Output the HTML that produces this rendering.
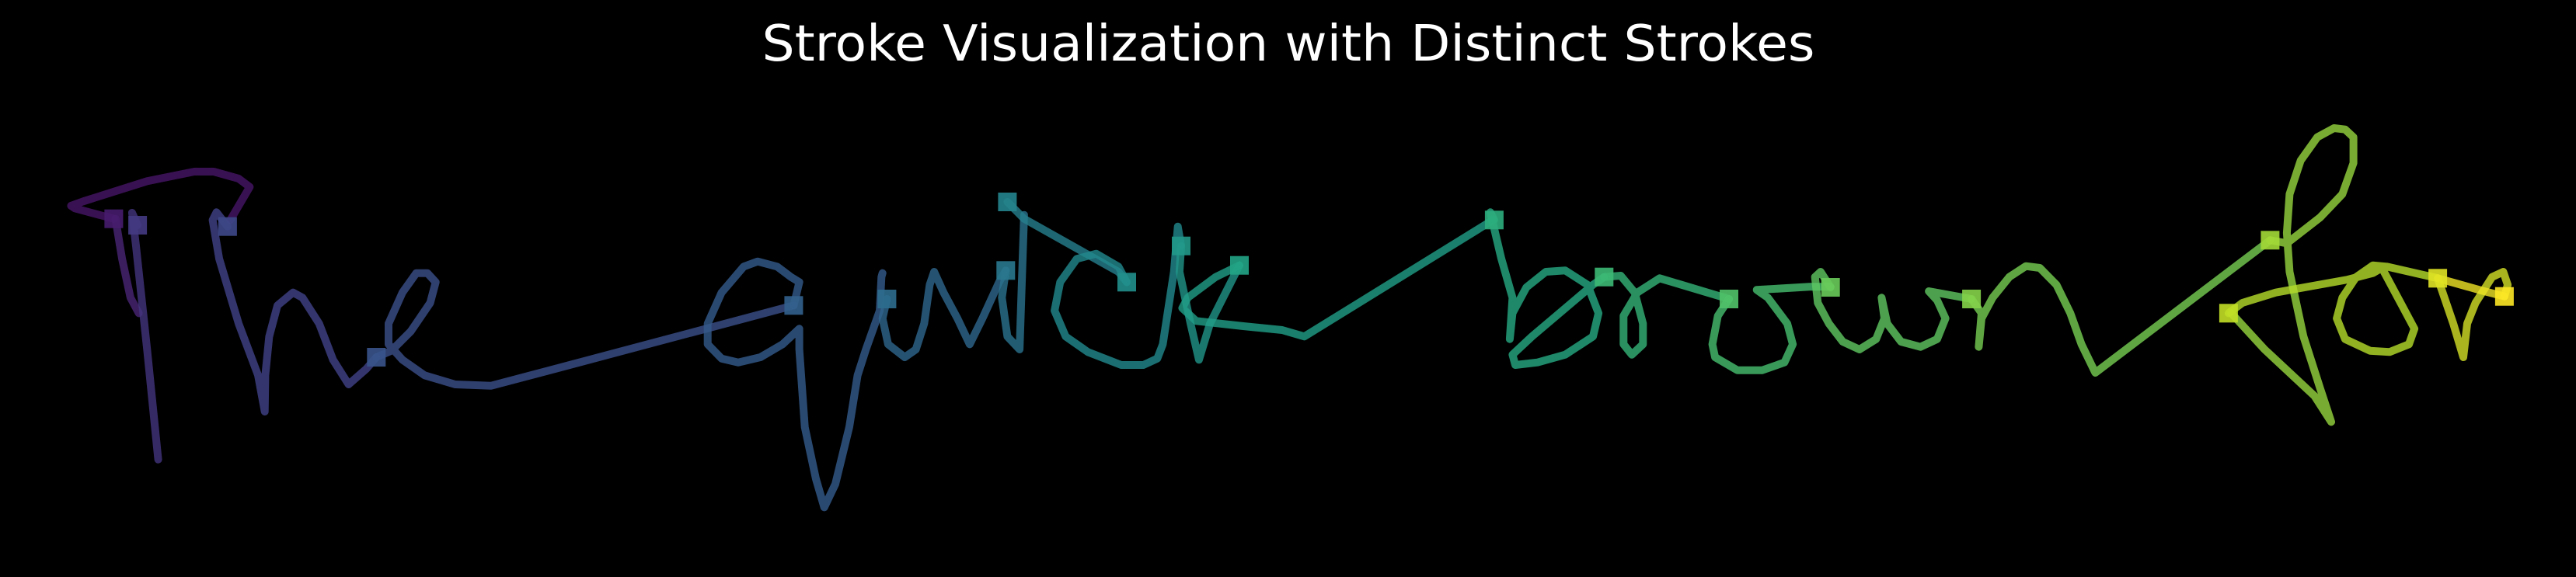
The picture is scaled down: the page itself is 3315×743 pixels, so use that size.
<!DOCTYPE html>
<html><head><meta charset="utf-8"><style>
html,body{margin:0;padding:0;background:#000;}
svg{display:block;}
</style></head><body>
<svg id="chart" width="3315" height="743" viewBox="0 0 3315 743" xmlns="http://www.w3.org/2000/svg">
<rect x="0" y="0" width="3315" height="743" fill="#000"/>
<text x="1658" y="78" text-anchor="middle" font-family="DejaVu Sans, Liberation Sans, sans-serif" font-size="64" fill="#fff" textLength="1355" lengthAdjust="spacingAndGlyphs">Stroke Visualization with Distinct Strokes</text>
<g id="strokes"></g>
<g id="markers"></g>
</svg>
<script>
// Pen-unit stroke data (x in pen units, y in pen units)
const stroke1 = [[205,395],[135,355],[128,345],[150,328],[265,250],[350,213],[385,213],[430,240],[450,272],[415,400]];
const stroke2 = [[248,420],[238,372],[245,500],[265,900],[285,1325]];
const stroke2b = [[208,395],[220,550],[235,700],[250,760]];
const stroke3 = [[410,425],[390,370],[383,400],[395,550],[430,800],[465,1000],[477,1140],[478,1000],[485,850],[500,730],[528,680],[545,700],[575,800],[600,940],[628,1035],[660,975],[678,930]];
const stroke4 = [[678,930],[705,905],[740,830],[775,720],[785,640],[770,605],[750,605],[725,680],[700,800],[700,880],[725,940],[765,1000],[820,1035],[885,1040],[1000,975],[1430,730]];
const stroke5 = [[1430,730],[1440,640],[1425,620],[1400,580],[1365,560],[1340,580],[1300,680],[1275,800],[1275,880],[1300,935],[1330,950],[1370,930],[1410,880],[1440,820],[1440,900],[1450,1200],[1470,1400],[1485,1510],[1505,1420],[1530,1200],[1545,1000],[1560,900],[1585,750],[1588,620],[1590,605]];
const stroke6 = [[1598,705],[1590,780],[1600,880],[1630,930],[1650,900],[1665,800],[1675,650],[1683,600],[1700,680],[1725,780],[1747,880],[1770,780],[1800,640],[1812,595]];
const stroke7 = [[1812,595],[1805,700],[1815,850],[1837,900],[1840,700],[1845,380]];
const stroke8 = [[1815,330],[1845,395],[2015,600],[2030,640]];
const stroke9 = [[2030,640],[2015,580],[1975,530],[1940,550],[1910,640],[1900,750],[1920,850],[1960,910],[2020,960],[2060,960],[2085,935],[2095,880],[2115,600],[2122,425],[2128,500]];
const stroke10 = [[2128,500],[2125,600],[2145,800],[2160,940],[2180,800],[2233,575]];
const stroke11 = [[2233,575],[2190,620],[2140,700],[2130,740],[2155,790],[2240,810],[2310,825],[2350,850],[2690,400]];
const stroke12 = [[2692,400],[2685,370],[2705,550],[2725,700],[2720,860],[2725,760],[2750,660],[2785,600],[2820,595],[2860,650],[2880,760],[2870,850],[2820,920],[2770,950],[2730,960],[2725,920],[2760,850],[2870,650],[2890,620]];
const stroke13 = [[2890,620],[2920,615],[2945,680],[2960,800],[2960,880],[2940,920],[2925,880],[2925,770],[2950,680],[2990,625],[3115,705]];
const stroke14 = [[3115,705],[3095,770],[3085,880],[3090,930],[3130,980],[3175,980],[3215,950],[3230,880],[3220,800],[3185,700],[3165,670],[3260,658],[3298,658]];
const stroke15 = [[3298,660],[3280,600],[3270,620],[3275,720],[3295,800],[3320,870],[3350,900],[3380,860],[3395,780],[3390,700],[3400,800],[3425,870],[3460,890],[3490,860],[3505,780],[3490,710],[3475,675],[3552,705]];
const stroke16 = [[3552,705],[3570,760],[3565,890],[3570,780],[3590,700],[3620,620],[3650,578],[3675,585],[3705,650],[3730,760],[3750,880],[3775,990],[4090,478]];
const stroke17 = [[4090,478],[4120,490],[4180,390],[4220,300],[4240,180],[4240,80],[4225,50],[4205,45],[4175,80],[4145,170],[4125,300],[4120,450],[4125,600],[4150,850],[4180,1050],[4200,1180],[4170,1080],[4080,900],[4020,760]];
const stroke18 = [[4015,760],[4040,720],[4100,680],[4230,630],[4275,605],[4295,580],[4295,600],[4330,740],[4350,820],[4340,880],[4305,910],[4270,905],[4225,860],[4210,780],[4220,700],[4245,620],[4275,575],[4300,580],[4392,625]];
const stroke19 = [[4392,625],[4420,800],[4438,930],[4445,800],[4460,720],[4490,620],[4510,600],[4518,650],[4512,695]];
const stroke20 = [[4512,695],[4470,672],[4392,625]];
const strokes = [stroke1,stroke2b,stroke2,stroke3,stroke4,stroke5,stroke6,stroke7,stroke8,stroke9,stroke10,stroke11,stroke12,stroke13,stroke14,stroke15,stroke16,stroke17,stroke18,stroke19,stroke20];
const markerFlags = [1,0,1,1,1,1,1,1,1,1,1,1,1,1,1,1,1,1,1,1,1];

// axis functions: pen units -> pixels
function xScale(v){ return v/1.4; }
function yScale(v){ return 150 + v/3; }

const VIR = [[68,1,84],[72,35,116],[64,67,135],[52,94,141],[41,120,142],[32,144,140],[34,167,132],[68,190,112],[121,209,81],[189,222,38],[253,231,37]];
function viridis(t){
  t=Math.max(0,Math.min(1,t));
  const p=t*(VIR.length-1), i=Math.min(VIR.length-2,Math.floor(p)), f=p-i;
  const c=VIR[i].map((a,k)=>Math.round(a+(VIR[i+1][k]-a)*f));
  return 'rgb('+c.join(',')+')';
}
const NS='http://www.w3.org/2000/svg';
const gS=document.getElementById('strokes'), gM=document.getElementById('markers');
const n=strokes.length;
strokes.forEach((s,i)=>{
  const col=viridis(0.06+0.92*i/(n-1));
  const p=document.createElementNS(NS,'polyline');
  p.setAttribute('points', s.map(q=>xScale(q[0]).toFixed(1)+','+yScale(q[1]).toFixed(1)).join(' '));
  p.setAttribute('fill','none'); p.setAttribute('stroke',col);
  p.setAttribute('stroke-width','10'); p.setAttribute('stroke-linejoin','round'); p.setAttribute('stroke-linecap','round');
  p.setAttribute('opacity','0.8');
  
  
  gS.appendChild(p);
  if(markerFlags[i]){
    const r=document.createElementNS(NS,'rect');
    r.setAttribute('x',(xScale(s[0][0])-12).toFixed(1));
    r.setAttribute('y',(yScale(s[0][1])-12).toFixed(1));
    r.setAttribute('width','24'); r.setAttribute('height','24');
    r.setAttribute('fill',viridis(0.08+0.92*i/(n-1))); r.setAttribute('opacity','0.9');
    
    
    gM.appendChild(r);
  }
});
</script>
</body></html>
